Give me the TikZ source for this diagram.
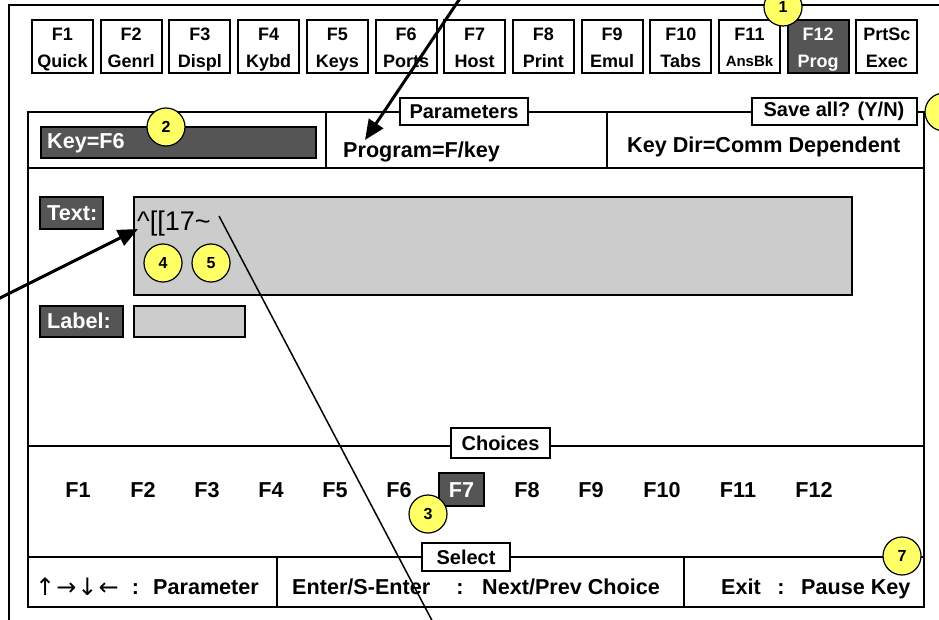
\documentclass[tikz,border=0pt]{standalone}
\usepackage{fontspec}
\setmainfont{Liberation Sans}
\newfontfamily\arrowfont{DejaVu Sans}
\usetikzlibrary{arrows.meta,calc}
\definecolor{darkbox}{RGB}{85,85,85}
\definecolor{fieldgray}{RGB}{204,204,204}
\definecolor{callyellow}{RGB}{255,255,102}
\newcommand{\fsz}[1]{\fontsize{#1}{#1}\selectfont}
\begin{document}
\begin{tikzpicture}[x=1pt,y=-1pt,
  frame/.style={line width=2.3pt},
  fkey/.style={draw,line width=2pt,fill=white,minimum width=61pt,minimum height=53pt,inner sep=0pt},
  fkeydark/.style={fkey,fill=darkbox},
  ktext/.style={anchor=base,inner sep=0pt,font=\fsz{18}\bfseries},
  hdr/.style={draw,fill=white,line width=2pt,inner sep=0pt,font=\fsz{20}\bfseries},
  txt/.style={anchor=base west,inner sep=0pt,font=\fsz{21.6}\bfseries},
  ctxt/.style={anchor=base,inner sep=0pt,font=\fsz{21.6}\bfseries},
  wtxt/.style={txt,text=white},
  dbox/.style={draw,line width=2pt,fill=darkbox,inner sep=0pt},
  gbox/.style={draw,line width=2pt,fill=fieldgray,inner sep=0pt},
  callout/.style={circle,draw,line width=1.2pt,fill=callyellow,minimum size=38pt,inner sep=0pt,font=\fsz{16}\bfseries},
  bigarrow/.style={line width=3pt,-{Triangle[length=20pt,width=17pt]}},
  thinline/.style={line width=1.5pt}
]
\useasboundingbox (0,0) rectangle (939,620);
\clip (0,0) rectangle (939,620);
\fill[white] (0,0) rectangle (939,620);

% outer and inner frames
\draw[frame] (9,650) -- (9,5) -- (990,5);
\draw[frame] (28,112) rectangle (924,607);
\draw[frame] (28,168) -- (924,168);
\draw[frame] (28,446) -- (924,446);
\draw[frame] (28,557) -- (924,557);
\draw[frame] (326,112) -- (326,168);
\draw[frame] (607,112) -- (607,168);
\draw[frame] (277,557) -- (277,607);
\draw[frame] (684,557) -- (684,607);

% function key row
\foreach \i/\a/\b in {0/F1/Quick,1/F2/Genrl,2/F3/Displ,3/F4/Kybd,4/F5/Keys,5/F6/Ports,6/F7/Host,7/F8/Print,8/F9/Emul,9/F10/Tabs,12/PrtSc/Exec}{
  \node[fkey] (key\i) at ({62.5+68.7*\i},46.5) {};
  \node[ktext] (keya\i) at ({62.5+68.7*\i},40.5) {\a};
  \node[ktext] (keyb\i) at ({62.5+68.7*\i},68) {\b};
}
\node[fkey] (key10) at ({62.5+68.7*10},46.5) {};
\node[ktext] (keya10) at ({62.5+68.7*10},40.5) {F11};
\node[ktext,font=\fsz{15}\bfseries] (keyb10) at ({62.5+68.7*10},66.5) {AnsBk};
\node[fkeydark] (key11) at ({62.5+68.7*11},46.5) {};
\node[ktext,text=white] (keya11) at ({62.5+68.7*11},40.5) {F12};
\node[ktext,text=white] (keyb11) at ({62.5+68.7*11},68) {Prog};

% headers
\node[hdr,minimum width=128pt,minimum height=27pt] (hparam) at (464,111.5) {Parameters};
\node[hdr,minimum width=165pt,minimum height=27pt] (hsave) at (834,111.5) {Save all? (Y/N)};
\node[hdr,minimum width=99pt,minimum height=30pt] (hchoice) at (500.5,443) {Choices};
\node[hdr,minimum width=88pt,minimum height=28pt] (hselect) at (466,557) {Select};

% parameter row
\node[dbox,minimum width=275pt,minimum height=31pt] (keybox) at (178.5,142.5) {};
\node[wtxt] (keytxt) at (47,149) {Key=F6};
\node[txt] (prog) at (343,158) {Program=F/key};
\node[txt] (keydir) at (627,153) {Key Dir=Comm Dependent};

% text / label fields
\node[dbox,minimum width=63pt,minimum height=32pt] (textlbl) at (71.5,213) {};
\node[wtxt] (texttxt) at (47,220.5) {Text:};
\node[gbox,minimum width=718pt,minimum height=98pt] (textfield) at (493,246) {};
\node[anchor=base west,inner sep=0pt,font=\fsz{27}] (code) at (137,231) {\^{}[[17\textasciitilde};
\node[dbox,minimum width=83pt,minimum height=31pt] (labellbl) at (81.5,321.5) {};
\node[wtxt] (labeltxt) at (47,328.5) {Label:};
\node[gbox,minimum width=111pt,minimum height=31pt] (labelfield) at (189.5,321.5) {};

% choices
\node[dbox,minimum width=45pt,minimum height=33pt] (f7box) at (461.5,489.5) {};
\foreach \n/\x in {1/78,2/143,3/207,4/271,5/335,6/399,8/527,9/591,10/662,11/738,12/814}{
  \node[ctxt] (ch\n) at (\x,497) {F\n};
}
\node[ctxt,text=white] (ch7) at (461.5,497) {F7};

% bottom row
\node[anchor=base west,inner sep=0pt,font=\arrowfont\fsz{24}] (arrows) at (35,595) {↑\hspace{1pt}→\hspace{1pt}↓\hspace{1pt}←};
\node[ctxt] (colon1) at (135.5,594.5) {:};
\node[txt] (param) at (153,594.5) {Parameter};
\node[txt] (enter) at (292,594.5) {Enter/S-Enter};
\node[ctxt] (colon2) at (460,594.5) {:};
\node[txt] (nextprev) at (482,594.5) {Next/Prev Choice};
\node[txt] (exit) at (721,594.5) {Exit};
\node[ctxt] (colon3) at (781,594.5) {:};
\node[txt] (pause) at (801,594.5) {Pause Key};

% callouts
\node[callout] (c1) at (783,7) {1};
\node[callout] (c2) at (166,127) {2};
\node[callout] (c3) at (428,514) {3};
\node[callout] (c4) at (163,263) {4};
\node[callout] (c5) at (211,263) {5};
\node[callout] (c6) at (944,112) {};
\node[callout] (c7) at (902,556) {7};

% connectors
\coordinate (a1s) at (467,-12);
\coordinate (a2s) at (-12,304);
\coordinate (l3s) at (219,216);
\coordinate (l3e) at (437,630);
\draw[bigarrow] (a1s) -- ($(prog.base west)+(22,-18)$);
\draw[bigarrow] (a2s) -- ($(code.base west)+(1,-2)$);
\draw[thinline] (l3s) -- (l3e);
\end{tikzpicture}
\end{document}
